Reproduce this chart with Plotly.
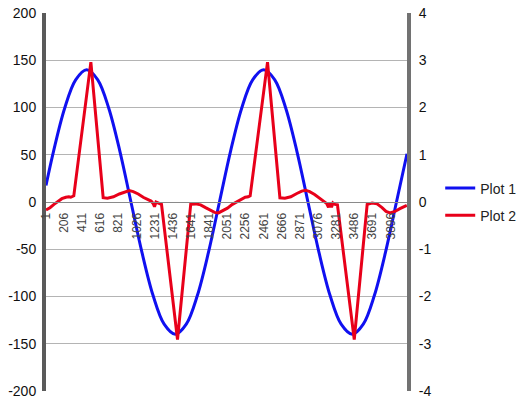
import plotly.graph_objects as go

# Plot 1 (left axis)
blue_x = [1, 86, 211, 336, 461, 586, 711, 836, 961, 1086, 1211, 1336, 1461, 1586, 1711,
          1836, 1961, 2086, 2211, 2336, 2461, 2586, 2711, 2836, 2961, 3086, 3211, 3336,
          3461, 3586, 3711, 3836, 3961, 4080]
blue_y = [17.5, 53.6, 99.0, 129.3, 140.0, 129.3, 99.0, 53.6, 0.0, -53.6, -99.0, -129.3,
          -140.0, -129.3, -99.0, -53.6, 0.0, 53.6, 99.0, 129.3, 140.0, 129.3, 99.0, 53.6,
          0.0, -53.6, -99.0, -129.3, -140.0, -129.3, -99.0, -53.6, 0.0, 51.0]

# Plot 2 (right axis)
red_x = [1, 46, 91, 135, 180, 225, 259, 281, 303, 315, 508, 647, 695, 763, 830, 897, 942,
         987, 1043, 1099, 1155, 1188, 1211, 1227, 1244, 1272, 1306, 1487, 1636, 1692, 1748,
         1804, 1860, 1905, 1950, 1995, 2051, 2107, 2163, 2207, 2252, 2286, 2308, 2504, 2644,
         2700, 2767, 2835, 2891, 2935, 2980, 3036, 3092, 3137, 3171, 3193, 3210, 3227, 3243,
         3266, 3294, 3484, 3630, 3686, 3742, 3798, 3843, 3888, 3944, 4000, 4078]
red_y = [-0.17, -0.12, -0.05, 0.01, 0.07, 0.10, 0.11, 0.10, 0.13, 0.13, 2.96, 0.09, 0.08,
         0.11, 0.17, 0.22, 0.24, 0.22, 0.17, 0.10, 0.05, 0.02, -0.03, -0.10, 0.0, -0.02,
         -0.05, -2.91, -0.05, -0.04, -0.06, -0.12, -0.18, -0.22, -0.23, -0.19, -0.13, -0.05,
         0.01, 0.06, 0.10, 0.11, 0.13, 2.96, 0.09, 0.08, 0.11, 0.18, 0.23, 0.25, 0.22, 0.16,
         0.08, 0.03, -0.03, -0.11, -0.01, -0.11, -0.02, -0.05, -0.06, -2.91, -0.05, -0.02,
         -0.04, -0.12, -0.20, -0.23, -0.20, -0.14, -0.07]

x_tickvals = [1, 206, 411, 616, 821, 1026, 1231, 1436, 1641, 1841, 2051, 2256, 2461, 2666,
              2871, 3076, 3281, 3486, 3691, 3896]
x_ticktext = [str(v) for v in x_tickvals]

left_ticks = [-200, -150, -100, -50, 0, 50, 100, 150, 200]
left_text = [str(v) for v in left_ticks]
right_ticks = [-4, -3, -2, -1, 0, 1, 2, 3, 4]
right_text = [str(v) for v in right_ticks]

FONT = "Liberation Sans"

fig = go.Figure()
fig.add_trace(go.Scatter(x=blue_x, y=blue_y, mode="lines", name="Plot 1",
                         line=dict(color="#1010f0", width=3, shape="spline"),
                         legendgroup="a", yaxis="y"))
fig.add_trace(go.Scatter(x=red_x, y=red_y, mode="lines", name="Plot 2",
                         line=dict(color="#e8001a", width=3),
                         legendgroup="b", yaxis="y2"))

# page body has an 8px margin, so the figure is sized/positioned to compensate
fig.update_layout(
    width=520, height=392,
    margin=dict(l=38, r=121, t=5, b=9),
    paper_bgcolor="white", plot_bgcolor="white",
    font=dict(family=FONT, size=14, color="#111"),
    xaxis=dict(range=[1, 4080], anchor="free", position=0.5, side="bottom",
               tickvals=x_tickvals, ticktext=x_ticktext, tickangle=-90,
               tickfont=dict(size=12, color="#444", family=FONT),
               showgrid=False, zeroline=False, showline=True, linecolor="#8a8a8a",
               linewidth=1, ticks="", ticklabelstandoff=5, automargin=False),
    yaxis=dict(range=[-200, 200], tickvals=left_ticks, ticktext=left_text,
               showgrid=True, gridcolor="#b4b4b4",
               gridwidth=1, zeroline=False, showline=True, linewidth=4, linecolor="#5a5a5a",
               ticks="", tickfont=dict(size=14, color="#111"), automargin=False,
               ticklabelstandoff=3, ticklabeloverflow="allow"),
    yaxis2=dict(range=[-4, 4], tickvals=right_ticks, ticktext=right_text,
                overlaying="y", side="right",
                showgrid=False, zeroline=False, showline=True, linewidth=4,
                linecolor="#727272", ticks="", tickfont=dict(size=14, color="#111"),
                automargin=False, ticklabelstandoff=5, ticklabeloverflow="allow"),
    legend=dict(x=1.092, xanchor="left", y=0.5, yanchor="middle", tracegroupgap=6,
                font=dict(size=14, color="#222"), bgcolor="rgba(0,0,0,0)"),
    showlegend=True,
)

fig.write_html("out.html")
